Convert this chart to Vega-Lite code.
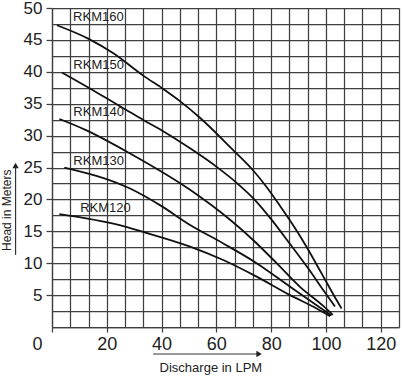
{
  "$schema": "https://vega.github.io/schema/vega-lite/v6.json",
  "width": 347,
  "height": 319,
  "autosize": {"type": "none"},
  "padding": {"left": 52, "top": 8, "right": 4, "bottom": 49},
  "background": "white",
  "config": {"view": {"stroke": null}, "font": "Liberation Sans"},
  "datasets": {
    "curves": [
      {"model": "RKM160", "q": 1.8, "h": 47.3}, {"model": "RKM160", "q": 13.2, "h": 45.2}, {"model": "RKM160", "q": 22.4, "h": 42.9},
      {"model": "RKM160", "q": 33.3, "h": 39.4}, {"model": "RKM160", "q": 40.6, "h": 37.3}, {"model": "RKM160", "q": 46.7, "h": 35.4},
      {"model": "RKM160", "q": 54.0, "h": 32.8}, {"model": "RKM160", "q": 66.2, "h": 27.7}, {"model": "RKM160", "q": 72.9, "h": 24.8},
      {"model": "RKM160", "q": 78.4, "h": 21.9}, {"model": "RKM160", "q": 83.2, "h": 19.0}, {"model": "RKM160", "q": 88.1, "h": 15.9},
      {"model": "RKM160", "q": 93.0, "h": 12.5}, {"model": "RKM160", "q": 98.4, "h": 8.4}, {"model": "RKM160", "q": 102.7, "h": 5.1},
      {"model": "RKM160", "q": 105.7, "h": 2.9},
      {"model": "RKM150", "q": 3.6, "h": 39.9}, {"model": "RKM150", "q": 13.4, "h": 37.5}, {"model": "RKM150", "q": 20.1, "h": 35.8},
      {"model": "RKM150", "q": 26.8, "h": 34.1}, {"model": "RKM150", "q": 33.5, "h": 32.4}, {"model": "RKM150", "q": 40.1, "h": 30.8},
      {"model": "RKM150", "q": 50.4, "h": 28.0}, {"model": "RKM150", "q": 60.1, "h": 25.1}, {"model": "RKM150", "q": 67.4, "h": 22.6},
      {"model": "RKM150", "q": 74.1, "h": 19.9}, {"model": "RKM150", "q": 80.2, "h": 16.8}, {"model": "RKM150", "q": 86.9, "h": 13.0},
      {"model": "RKM150", "q": 93.5, "h": 9.2}, {"model": "RKM150", "q": 99.0, "h": 5.8}, {"model": "RKM150", "q": 103.3, "h": 3.2},
      {"model": "RKM140", "q": 2.7, "h": 32.6}, {"model": "RKM140", "q": 12.2, "h": 30.9}, {"model": "RKM140", "q": 28.5, "h": 27.2},
      {"model": "RKM140", "q": 50.4, "h": 21.5}, {"model": "RKM140", "q": 65.0, "h": 16.8}, {"model": "RKM140", "q": 73.5, "h": 13.6},
      {"model": "RKM140", "q": 82.0, "h": 10.0}, {"model": "RKM140", "q": 90.5, "h": 6.3}, {"model": "RKM140", "q": 99.0, "h": 3.3},
      {"model": "RKM140", "q": 102.5, "h": 1.9},
      {"model": "RKM130", "q": 4.5, "h": 25.0}, {"model": "RKM130", "q": 28.5, "h": 21.7}, {"model": "RKM130", "q": 39.4, "h": 19.1},
      {"model": "RKM130", "q": 50.4, "h": 16.0}, {"model": "RKM130", "q": 62.5, "h": 13.1}, {"model": "RKM130", "q": 74.7, "h": 10.0},
      {"model": "RKM130", "q": 86.9, "h": 6.3}, {"model": "RKM130", "q": 96.6, "h": 3.4}, {"model": "RKM130", "q": 102.0, "h": 1.8},
      {"model": "RKM120", "q": 2.7, "h": 17.7}, {"model": "RKM120", "q": 24.3, "h": 16.0}, {"model": "RKM120", "q": 33.3, "h": 14.9},
      {"model": "RKM120", "q": 50.4, "h": 12.6}, {"model": "RKM120", "q": 62.5, "h": 10.5}, {"model": "RKM120", "q": 74.7, "h": 7.9},
      {"model": "RKM120", "q": 86.9, "h": 5.0}, {"model": "RKM120", "q": 96.6, "h": 2.9}, {"model": "RKM120", "q": 101.5, "h": 1.7}
    ],
    "labels": [
      {"model": "RKM160", "q": 7.7, "h": 48.6},
      {"model": "RKM150", "q": 7.8, "h": 41.1},
      {"model": "RKM140", "q": 7.8, "h": 33.7},
      {"model": "RKM130", "q": 7.8, "h": 26.0},
      {"model": "RKM120", "q": 10.3, "h": 18.6}
    ]
  },
  "encoding": {
    "x": {
      "field": "q", "type": "quantitative",
      "scale": {"domain": [0, 126.6667], "nice": false, "zero": false},
      "axis": {
        "title": null,
        "values": [0, 6.6667, 13.3333, 20, 26.6667, 33.3333, 40, 46.6667, 53.3333, 60, 66.6667, 73.3333, 80, 86.6667, 93.3333, 100, 106.6667, 113.3333, 120, 126.6667],
        "labelExpr": "datum.value % 20 == 0 ? format(datum.value, 'd') : ''",
        "grid": true, "gridColor": "#3f3f3f", "gridWidth": 1.25, "gridOpacity": 1,
        "domainColor": "#3f3f3f", "domainWidth": 1.25,
        "tickColor": "#3f3f3f", "tickWidth": 1.25,
        "tickSize": {"condition": {"test": "datum.value % 20 == 0", "value": 5}, "value": 0},
        "labelFontSize": 18, "labelColor": "#222222", "labelPadding": 3,
        "labelOffset": {"condition": {"test": "datum.value == 0", "value": -15}, "value": 0},
        "labelFlush": false, "labelOverlap": false
      }
    },
    "y": {
      "field": "h", "type": "quantitative",
      "scale": {"domain": [0, 50], "nice": false, "zero": false},
      "axis": {
        "title": null,
        "values": [0, 2.5, 5, 7.5, 10, 12.5, 15, 17.5, 20, 22.5, 25, 27.5, 30, 32.5, 35, 37.5, 40, 42.5, 45, 47.5, 50],
        "labelExpr": "datum.value % 5 == 0 && datum.value > 0 ? format(datum.value, 'd') : ''",
        "grid": true, "gridColor": "#3f3f3f", "gridWidth": 1.25, "gridOpacity": 1,
        "domainColor": "#3f3f3f", "domainWidth": 1.25,
        "tickColor": "#3f3f3f", "tickWidth": 1.25,
        "tickSize": {"condition": {"test": "datum.value % 5 == 0 && datum.value > 0", "value": 6}, "value": 0},
        "labelFontSize": 17, "labelColor": "#222222", "labelPadding": 4,
        "labelFlush": false, "labelOverlap": false
      }
    }
  },
  "layer": [
    {
      "data": {"name": "curves"},
      "mark": {"type": "line", "interpolate": "monotone", "color": "#111111", "strokeWidth": 1.8},
      "encoding": {"detail": {"field": "model"}}
    },
    {
      "data": {"name": "labels"},
      "mark": {"type": "text", "align": "left", "baseline": "middle", "fontSize": 13, "color": "#222222"},
      "encoding": {"text": {"field": "model"}}
    },
    {
      "data": {"values": [{"label": "Discharge in LPM", "q": 58.0, "h": -6.45}]},
      "mark": {"type": "text", "align": "center", "baseline": "middle", "fontSize": 13, "color": "#222222"},
      "encoding": {"text": {"field": "label"}}
    },
    {
      "data": {"values": [{"label": "Head in Meters", "q": -16.3, "h": 18.3}]},
      "mark": {"type": "text", "align": "center", "baseline": "middle", "fontSize": 12, "angle": 270, "color": "#222222"},
      "encoding": {"text": {"field": "label"}}
    },
    {
      "data": {"values": [
        {"q": 36.9, "h": -4.23, "q2": 75.2, "h2": -4.23},
        {"q": -13.3, "h": 11.3, "q2": -13.3, "h2": 25.0}
      ]},
      "mark": {"type": "rule", "color": "#333333", "strokeWidth": 1.2},
      "encoding": {"x2": {"field": "q2"}, "y2": {"field": "h2"}}
    },
    {
      "data": {"values": [{"q": 75.6, "h": -4.23}]},
      "mark": {"type": "point", "shape": "triangle-right", "filled": true, "size": 40, "color": "#222222", "opacity": 1},
      "encoding": {}
    },
    {
      "data": {"values": [{"q": -13.3, "h": 25.3}]},
      "mark": {"type": "point", "shape": "triangle-up", "filled": true, "size": 40, "color": "#222222", "opacity": 1},
      "encoding": {}
    }
  ]
}
